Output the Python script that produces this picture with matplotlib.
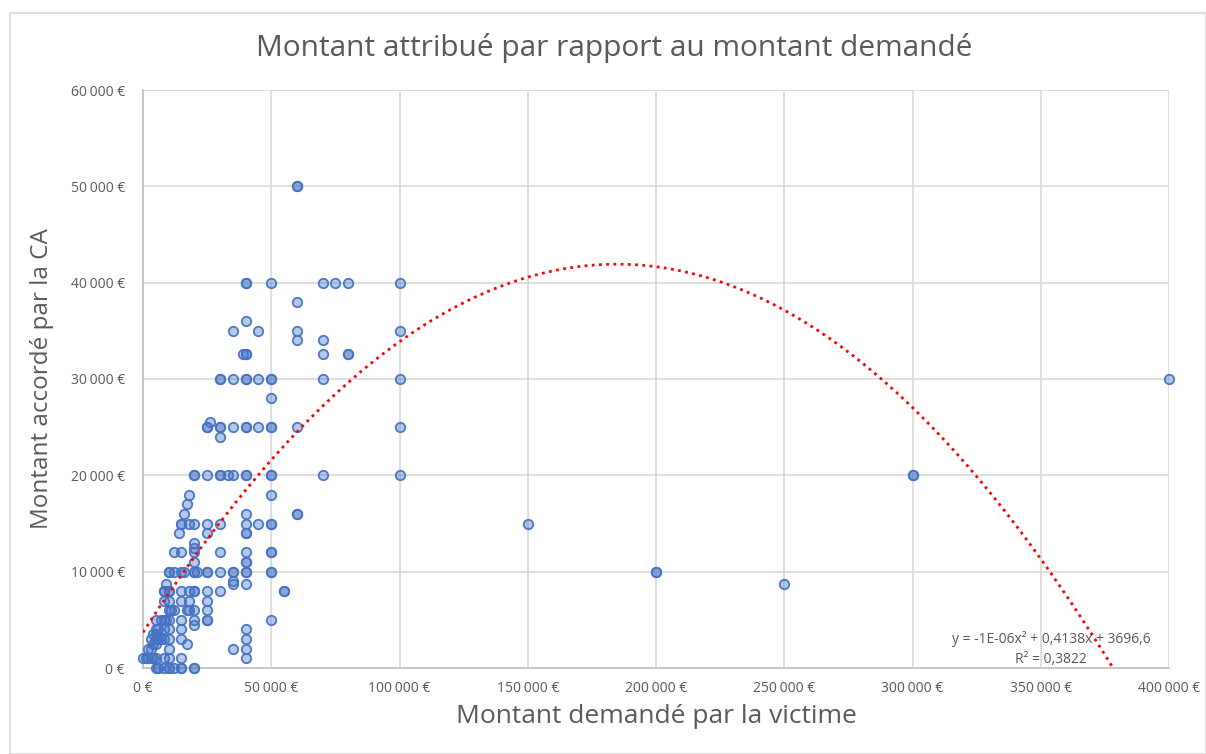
import numpy as np
import matplotlib
matplotlib.use("Agg")
import matplotlib.pyplot as plt
from matplotlib.patches import Rectangle
from matplotlib.ticker import FuncFormatter

# amount requested by the victim (EUR) and amount granted by the court (EUR)
far_x = [400000, 300000, 300000, 250000, 200000, 200000, 150000]
far_y = [30000, 20000, 20000, 8700, 10000, 10000, 15000]

mid_x = ([100000] * 5 + [80000] * 3 + [75000] + [70000] * 5 + [60000] * 8 + [55000] * 2)
mid_y = ([40000, 35000, 30000, 25000, 20000,
          40000, 32600, 32600,
          40000,
          40000, 34000, 32600, 30000, 20000,
          50000, 50000, 38000, 35000, 34000, 25000, 16000, 16000,
          8000, 8000])

x50 = [50000] * 16
y50 = [40000, 30000, 30000, 28000, 25000, 25000, 20000, 20000, 18000,
       15000, 15000, 12000, 12000, 10000, 10000, 5000]

x45 = [45000] * 4
y45 = [35000, 30000, 25000, 15000]

x40 = [40000] * 25 + [39000]
y40 = [40000, 40000, 36000, 32600, 32600, 30000, 30000, 25000, 25000, 20000,
       20000, 16000, 15000, 14000, 14000, 12000, 11000, 11000, 10000, 10000,
       8700, 4000, 3000, 2000, 1000, 32600]

x35 = [35000] * 9 + [33000]
y35 = [35000, 30000, 25000, 20000, 10000, 10000, 9000, 8700, 2000, 20000]

x30 = [30000] * 11 + [26000]
y30 = [30000, 30000, 25000, 25000, 24000, 20000, 20000, 15000, 12000, 10000, 8000, 25500]

x25 = [25000] * 12 + [21000]
y25 = [25000, 25000, 20000, 15000, 14000, 10000, 10000, 8000, 7000, 6000, 5000, 5000, 10000]

x20 = [20000] * 16
y20 = [20000, 20000, 15000, 13000, 12500, 12000, 11000, 10000, 10000, 8000,
       8000, 6000, 5000, 4500, 0, 0]

x15 = [18000] * 5 + [17000] * 3 + [16000] * 2 + [15000] * 12 + [14000]
y15 = [18000, 15000, 8000, 7000, 6000,
       17000, 6000, 2500,
       16000, 10000,
       15000, 15000, 12000, 10000, 8000, 7000, 5000, 4000, 3000, 1000, 0, 0,
       14000]

x10 = [12000] * 4 + [11000] + [10000] * 13 + [9000] * 2
y10 = [12000, 10000, 6000, 0,
       6000,
       10000, 10000, 8000, 8000, 7000, 6000, 5000, 4000, 3000, 2000, 1000, 0, 0,
       8700, 5000]

x_low = ([8000] * 8 + [7000] * 2 + [6000] * 4 + [5000] * 7 + [4000] * 3
         + [3000] * 3 + [2000] * 2 + [1000, 0])
y_low = ([8000, 8000, 7000, 5000, 4000, 3000, 1000, 0,
          5000, 3000,
          4000, 3000, 0, 0,
          5000, 4000, 3500, 3000, 2500, 1000, 0,
          3500, 2500, 1000,
          3000, 2000, 1000,
          2000, 1000,
          1000, 1000])

demande = np.array(far_x + mid_x + x50 + x45 + x40 + x35 + x30 + x25 + x20 + x15 + x10 + x_low)
accorde = np.array(far_y + mid_y + y50 + y45 + y40 + y35 + y30 + y25 + y20 + y15 + y10 + y_low)

# polynomial trend line as drawn by the spreadsheet
trend_coefs = [-1.12e-06, 0.4138, 3696.6]
trend_label = "y = -1E-06x² + 0,4138x + 3696,6\nR² = 0,3822"

x_ticks = [0, 50000, 100000, 150000, 200000, 250000, 300000, 350000, 400000]
y_ticks = [0, 10000, 20000, 30000, 40000, 50000, 60000]

plt.rcParams['font.family'] = ['Open Sans', 'DejaVu Sans']
text_gray = '#595959'
grid_gray = '#D9D9D9'

fig = plt.figure(figsize=(12.06, 7.54), dpi=100)
ax = fig.add_axes([143 / 1206, 1 - 668 / 754, 1026 / 1206, 578 / 754])

# chart border
fig.patches.append(Rectangle((10 / 1206, 0), 1 - 10 / 1206, 1 - 13 / 754,
                             transform=fig.transFigure, fill=False,
                             edgecolor=grid_gray, linewidth=1.2))

ax.scatter(demande, accorde, s=46, facecolor=(0.267, 0.447, 0.769, 0.38),
           edgecolor=(0.267, 0.447, 0.769, 0.95), linewidth=1.3, zorder=3,
           clip_on=False)

xs = np.linspace(0, 400000, 800)
ys = np.polyval(trend_coefs, xs)
keep = ys >= 0
ax.plot(xs[keep], ys[keep], color='#FF0000', linestyle=(0, (1, 1.6)),
        linewidth=2.0, zorder=4)

ax.text(0.885, 0.002, trend_label, transform=ax.transAxes, ha='center',
        va='bottom', fontsize=10, color=text_gray, linespacing=1.45, zorder=5)

ax.set_xlim(0, 400000)
ax.set_ylim(0, 60000)
ax.set_xticks(x_ticks)
ax.set_yticks(y_ticks)


def euro(v, pos):
    if v == 0:
        return '0 €'
    return f"{int(v):,} €".replace(',', '\u202f')


ax.xaxis.set_major_formatter(FuncFormatter(euro))
ax.yaxis.set_major_formatter(FuncFormatter(euro))
ax.tick_params(axis='y', length=0, labelsize=10, labelcolor=text_gray, pad=13)
ax.tick_params(axis='x', length=0, labelsize=10, labelcolor=text_gray, pad=9)
ax.grid(True, color=grid_gray, linewidth=1.2, zorder=0)
ax.set_axisbelow(True)
for side in ['top', 'right']:
    ax.spines[side].set_visible(False)
ax.spines['left'].set_color('#BFBFBF')
ax.spines['bottom'].set_color('#BFBFBF')
ax.spines['left'].set_linewidth(1.2)
ax.spines['bottom'].set_linewidth(1.2)

fig.text(614 / 1206, 1 - 48 / 754, 'Montant attribué par rapport au montant demandé',
         ha='center', va='center', fontsize=21.5, color=text_gray)
ax.set_xlabel('Montant demandé par la victime', fontsize=19, color=text_gray, labelpad=6)
ax.set_ylabel('Montant accordé par la CA', fontsize=17.5, color=text_gray, labelpad=12)

fig.savefig('out.png', dpi=100, facecolor='white')
